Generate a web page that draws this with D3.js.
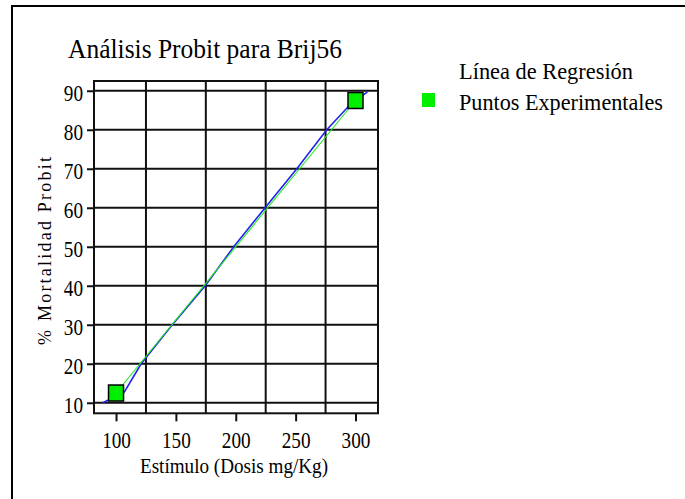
<!DOCTYPE html>
<html>
<head>
<meta charset="utf-8">
<script src="https://cdn.jsdelivr.net/npm/d3@7"></script>
<style>
  html, body { margin: 0; padding: 0; background: #fff; }
  svg { display: block; }
  text { font-family: "Liberation Serif", "Times New Roman", serif; fill: #000; }
</style>
</head>
<body>
<svg id="chart" width="685" height="499"></svg>
<script>
// Experimental points (dose mg/Kg, % mortality probit)
const expDose = [100, 300];
const expPct = [12.5, 87.5];

// Fitted regression curve, sampled along the dose range
const regDose = [89, 107, 121, 147, 174.5, 198.3, 224.5, 251, 276, 296, 310];
const regPct = [10, 12.8, 20, 30, 40, 50, 60, 70, 80, 86.6, 89.7];

// Axis ticks and grid positions
const xTicks = [100, 150, 200, 250, 300];
const xGrid = [125, 175, 225, 275];
const yTicks = [10, 20, 30, 40, 50, 60, 70, 80, 90];

const titleText = "Análisis Probit para Brij56";
const xLabel = "Estímulo (Dosis mg/Kg)";
const yLabel = "% Mortalidad Probit";
const legendItems = ["Línea de Regresión", "Puntos Experimentales"];

const svg = d3.select("#chart");

// outer frame (runs off the right and bottom edges)
svg.append("rect")
  .attr("x", 12).attr("y", 6).attr("width", 720).attr("height", 600)
  .attr("fill", "none").attr("stroke", "#000").attr("stroke-width", 2);

const plot = { left: 94, right: 378, top: 81, bottom: 413.3 };

const x = d3.scaleLinear().domain([81.6, 318.8]).range([plot.left, plot.right]);
const y = d3.scaleLinear().domain([7.3, 92.5]).range([plot.bottom, plot.top]);

// grid
const grid = svg.append("g").attr("stroke", "#111").attr("stroke-width", 2);
grid.selectAll("line.h").data(yTicks).join("line").attr("class", "h")
  .attr("x1", plot.left).attr("x2", plot.right)
  .attr("y1", d => y(d)).attr("y2", d => y(d));
grid.selectAll("line.v").data(xGrid).join("line").attr("class", "v")
  .attr("y1", plot.top).attr("y2", plot.bottom)
  .attr("x1", d => x(d)).attr("x2", d => x(d));

// plot frame
svg.append("rect")
  .attr("x", plot.left).attr("y", plot.top)
  .attr("width", plot.right - plot.left).attr("height", plot.bottom - plot.top)
  .attr("fill", "none").attr("stroke", "#111").attr("stroke-width", 2);

// axes
const xAxis = svg.append("g")
  .attr("transform", `translate(0,${plot.bottom})`)
  .call(d3.axisBottom(x).tickValues(xTicks).tickSize(8).tickFormat(d3.format("d")));
const yAxis = svg.append("g")
  .attr("transform", `translate(${plot.left},0)`)
  .call(d3.axisLeft(y).tickValues(yTicks).tickSize(7).tickPadding(4).tickFormat(d3.format("d")));

[xAxis, yAxis].forEach(g => {
  g.select(".domain").remove();
  g.selectAll(".tick line").attr("stroke", "#111").attr("stroke-width", 2);
  g.selectAll(".tick text")
    .attr("font-family", "Liberation Serif, serif")
    .attr("font-size", 24)
    .attr("fill", "#000")
    .attr("lengthAdjust", "spacingAndGlyphs")
    .attr("textLength", d => String(d).length * 9.6);
});
xAxis.selectAll(".tick text").attr("y", 35).attr("dy", 0);
yAxis.selectAll(".tick text").attr("dy", "0.42em");

// regression line
const line = d3.line().x(d => x(d[0])).y(d => y(d[1]));
svg.append("path")
  .datum(d3.zip(regDose, regPct))
  .attr("d", line)
  .attr("fill", "none").attr("stroke", "#2222ee").attr("stroke-width", 1.6);

// line through experimental points
svg.append("path")
  .datum(d3.zip(expDose, expPct))
  .attr("d", line)
  .attr("fill", "none").attr("stroke", "#22e822").attr("stroke-width", 1.1);

// experimental point markers
const mw = 15, mh = 16;
svg.selectAll("rect.pt").data(d3.zip(expDose, expPct)).join("rect")
  .attr("class", "pt")
  .attr("x", d => x(d[0]) - mw / 2).attr("y", d => y(d[1]) - mh / 2)
  .attr("width", mw).attr("height", mh)
  .attr("fill", "#00ee00").attr("stroke", "#000").attr("stroke-width", 1.5);

// title
svg.append("text")
  .attr("x", 68).attr("y", 58)
  .attr("font-size", 28)
  .attr("textLength", 274).attr("lengthAdjust", "spacingAndGlyphs")
  .text(titleText);

// axis titles
svg.append("text")
  .attr("x", 234).attr("y", 472.5)
  .attr("text-anchor", "middle")
  .attr("font-size", 20)
  .attr("textLength", 188).attr("lengthAdjust", "spacingAndGlyphs")
  .text(xLabel);

svg.append("text")
  .attr("transform", "translate(50.5,251) rotate(-90)")
  .attr("text-anchor", "middle")
  .attr("font-size", 18)
  .attr("textLength", 188).attr("lengthAdjust", "spacing")
  .text(yLabel);

// legend
const legendWidths = [174, 204];
const legendY = [79, 110];
svg.selectAll("text.leg").data(legendItems).join("text")
  .attr("class", "leg")
  .attr("x", 459).attr("y", (d, i) => legendY[i])
  .attr("font-size", 23.5)
  .attr("textLength", (d, i) => legendWidths[i]).attr("lengthAdjust", "spacingAndGlyphs")
  .text(d => d);
svg.append("rect")
  .attr("x", 422).attr("y", 93).attr("width", 13).attr("height", 14)
  .attr("fill", "#00ee00");
</script>
</body>
</html>
